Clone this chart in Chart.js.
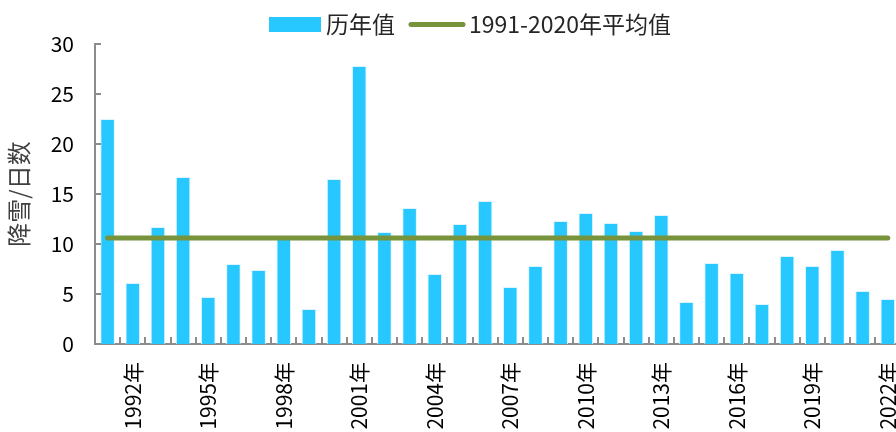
<!DOCTYPE html>
<html>
<head>
<meta charset="utf-8">
<script src="https://cdn.jsdelivr.net/npm/chart.js@4"></script>
<style>
html,body{margin:0;padding:0;overflow:hidden;background:#fff;}
canvas{display:block;}
</style>
</head>
<body>
<canvas id="c" width="923" height="432"></canvas>
<script>
const years = ['1991年','1992年','1993年','1994年','1995年','1996年','1997年','1998年','1999年','2000年','2001年','2002年','2003年','2004年','2005年','2006年','2007年','2008年','2009年','2010年','2011年','2012年','2013年','2014年','2015年','2016年','2017年','2018年','2019年','2020年','2021年','2022年'];
const snowDays = [22.5, 6.1, 11.7, 16.7, 4.7, 8.0, 7.4, 10.5, 3.5, 16.5, 27.8, 11.2, 13.6, 7.0, 12.0, 14.3, 5.7, 7.8, 12.3, 13.1, 12.1, 11.3, 12.9, 4.2, 8.1, 7.1, 4.0, 8.8, 7.8, 9.4, 5.3, 4.5];
const avgValue = 10.6;
const avgLine = years.map(() => avgValue);
const seriesNames = ['历年值', '1991-2020年平均值'];
const yTitle = '降雪/日数';

const FONT = "'Noto Sans CJK SC', 'Noto Sans', sans-serif";
const AXIS = '#8c8c8c';

const tickMarks = {
  id: 'tickMarks',
  afterDraw(chart) {
    const ctx = chart.ctx, x = chart.scales.x, y = chart.scales.y;
    const area = chart.chartArea;
    ctx.save();
    ctx.strokeStyle = AXIS;
    ctx.lineWidth = 2;
    ctx.beginPath();
    y.ticks.forEach(t => {
      const py = Math.round(y.getPixelForValue(t.value));
      ctx.moveTo(area.left, py); ctx.lineTo(area.left + 6, py);
    });
    for (let i = 1; i < years.length; i++) {
      const px = Math.round((x.getPixelForValue(i - 1) + x.getPixelForValue(i)) / 2);
      ctx.moveTo(px, area.bottom); ctx.lineTo(px, area.bottom - 7);
    }
    ctx.stroke();
    ctx.restore();
  }
};

const customLegend = {
  id: 'customLegend',
  afterDraw(chart) {
    const ctx = chart.ctx;
    const ds = chart.data.datasets;
    ctx.save();
    ctx.font = '23px ' + FONT;
    ctx.textBaseline = 'middle';
    ctx.fillStyle = ds[0].backgroundColor;
    ctx.fillRect(269, 17, 52, 15);
    ctx.fillStyle = '#262626';
    ctx.fillText(ds[0].label, 326, 24);
    ctx.strokeStyle = ds[1].borderColor;
    ctx.lineWidth = 5;
    ctx.lineCap = 'round';
    ctx.beginPath(); ctx.moveTo(411, 24.5); ctx.lineTo(463, 24.5); ctx.stroke();
    ctx.fillStyle = '#262626';
    ctx.fillText(ds[1].label, 469, 24);
    ctx.restore();
  }
};

new Chart(document.getElementById('c'), {
  data: {
    labels: years,
    datasets: [
      {
        type: 'bar',
        label: seriesNames[0],
        data: snowDays,
        backgroundColor: '#27C8FF',
        borderColor: '#DDF4FF',
        borderWidth: 1,
        barPercentage: 0.58,
        categoryPercentage: 1.0,
        order: 2
      },
      {
        type: 'line',
        label: seriesNames[1],
        data: avgLine,
        borderColor: '#77933C',
        backgroundColor: '#77933C',
        borderWidth: 5,
        borderCapStyle: 'round',
        pointRadius: 0,
        fill: false,
        order: 1
      }
    ]
  },
  options: {
    responsive: false,
    animation: false,
    devicePixelRatio: 1,
    layout: { padding: { top: 44, right: 0, left: 0, bottom: 0 } },
    plugins: {
      legend: { display: false },
      tooltip: { enabled: false }
    },
    scales: {
      x: {
        type: 'category',
        offset: true,
        grid: { display: false },
        border: { color: AXIS, width: 2 },
        ticks: {
          autoSkip: false,
          maxRotation: 90,
          minRotation: 90,
          padding: 10,
          color: '#000',
          font: { family: FONT, size: 21 },
          callback: function(v, i) { return i % 3 === 1 ? this.getLabelForValue(v) : ''; }
        },
        afterFit(s) { s.height = 88; }
      },
      y: {
        min: 0, max: 30,
        grid: { display: false },
        border: { color: AXIS, width: 2 },
        ticks: {
          stepSize: 5,
          padding: 13,
          color: '#000',
          font: { family: FONT, size: 21 }
        },
        title: {
          display: true,
          text: yTitle,
          color: '#404040',
          font: { family: FONT, size: 24 },
          padding: { top: 4, bottom: 0 }
        },
        afterFit(s) { s.width = 95; }
      }
    }
  },
  plugins: [tickMarks, customLegend]
});
</script>
</body>
</html>
